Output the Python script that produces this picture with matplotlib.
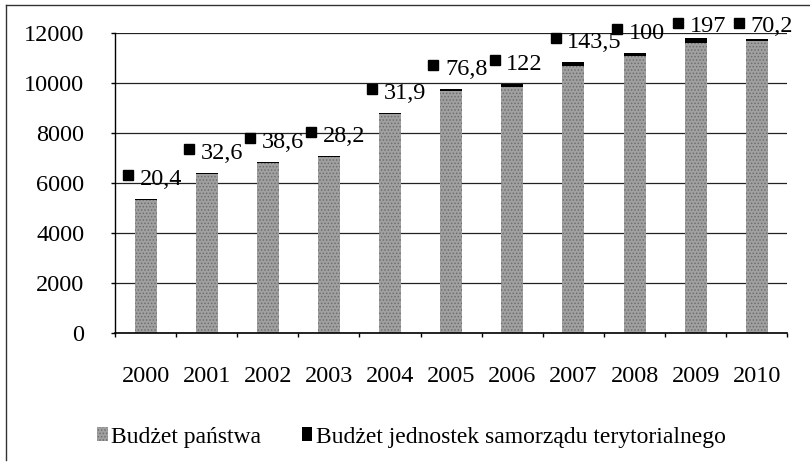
import matplotlib
matplotlib.use("Agg")
import matplotlib.pyplot as plt
from matplotlib.patches import Patch
from matplotlib.lines import Line2D

plt.rcParams['font.family'] = ['Liberation Serif', 'DejaVu Serif']
plt.rcParams['hatch.linewidth'] = 0.7

# data
years = ['2000', '2001', '2002', '2003', '2004', '2005',
         '2006', '2007', '2008', '2009', '2010']
state_budget = [5340, 6367, 6801, 7052, 8768, 9683, 9838, 10697, 11100, 11603, 11690]
local_budget = [20.4, 32.6, 38.6, 28.2, 31.9, 76.8, 122, 143.5, 100, 197, 70.2]
local_labels = ['20,4', '32,6', '38,6', '28,2', '31,9', '76,8',
                '122', '143,5', '100', '197', '70,2']

fig = plt.figure(figsize=(8.1, 4.67), dpi=100)
ax = fig.add_axes([0.142, 0.287, 0.830, 0.642])

x = list(range(len(years)))
ax.bar(x, state_budget, width=0.36, color='#a0a0a0', edgecolor='#6e6e6e',
       hatch='.....', linewidth=0, zorder=2)
ax.bar(x, local_budget, width=0.36, bottom=state_budget, color='black',
       linewidth=0, zorder=2)

# data labels with legend keys, as in the Excel original
for i in x:
    top = state_budget[i] + local_budget[i]
    ly = min(top + 950, 12400)
    ax.plot(i - 0.29, ly, marker='s', markersize=6.5, color='black',
            clip_on=False, zorder=4)
    ax.text(i - 0.10, ly - 150, local_labels[i], fontsize=17.5, va='center',
            ha='left', clip_on=False, zorder=4)

ax.set_xlim(-0.5, len(years) - 0.5)
ax.set_ylim(0, 12000)
ax.set_yticks(range(0, 12001, 2000))
ax.tick_params(axis='y', labelsize=17.5, length=3, width=1, pad=19)
ax.set_xticks(x)
ax.set_xticklabels(years)
ax.set_xticks([i - 0.5 for i in range(len(years) + 1)], minor=True)
ax.tick_params(axis='x', which='major', length=0, labelsize=17.5, pad=24)
ax.tick_params(axis='x', which='minor', length=3, width=1)
ax.grid(axis='y', color='#222222', linewidth=0.9, zorder=0)
for side in ['top', 'right']:
    ax.spines[side].set_visible(False)
ax.spines['left'].set_linewidth(1)
ax.spines['bottom'].set_linewidth(1.2)

handles = [Patch(facecolor='#a0a0a0', edgecolor='#6e6e6e', hatch='.....', linewidth=0),
           Patch(facecolor='black')]
fig.legend(handles, ['Budżet państwa', 'Budżet jednostek samorządu terytorialnego'],
           loc='center', bbox_to_anchor=(0.508, 0.064), ncol=2, frameon=False,
           fontsize=17, handlelength=0.45, handleheight=0.55, handletextpad=0.15,
           columnspacing=1.7)

# outer frame of the scanned chart
fig.add_artist(Line2D([0.0075, 0.0075], [0.015, 0.989], color='#333333', linewidth=1))
fig.add_artist(Line2D([0.0075, 1.0], [0.989, 0.989], color='#333333', linewidth=1))

fig.savefig('out.png', dpi=100)
